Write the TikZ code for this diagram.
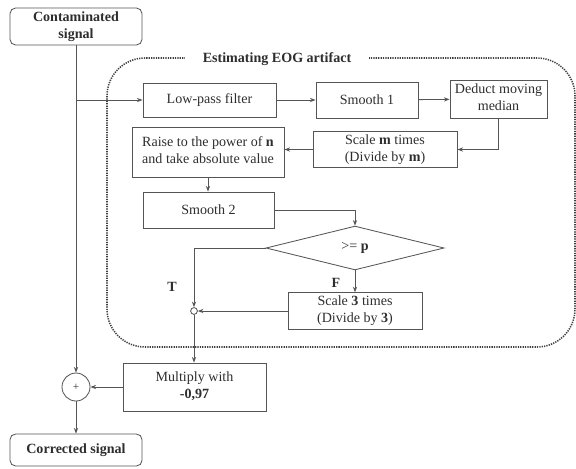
\documentclass[tikz,border=0pt]{standalone}
\usepackage{fontspec}
\setmainfont{Liberation Serif}
\usepackage{tikz}
\usetikzlibrary{
	arrows.meta,
	shapes.geometric
}
\definecolor{inkgray}{HTML}{555555}
\definecolor{textgray}{HTML}{2E2E2E}
\newcommand{\mlbox}[1]{%
	\begin{tabular}{@{}c@{}}%
		#1%
	\end{tabular}%
}
\tikzset{
	blockbox/.style={draw=inkgray,line width=0.6pt,inner sep=1pt,text=textgray},
	endbox/.style={blockbox,rounded corners=4pt,font=\bfseries,minimum width=3.3cm},
	decision/.style={diamond,draw=inkgray,line width=0.6pt,inner sep=1pt,text=textgray,
		minimum width=4.45cm,minimum height=1.05cm},
	sumnode/.style={circle,draw=inkgray,line width=0.6pt,minimum size=0.7cm,inner sep=0pt,
		font=\footnotesize,text=textgray},
	joint/.style={circle,draw=inkgray,line width=0.6pt,fill=white,minimum size=0.17cm,inner sep=0pt},
	flow/.style={draw=inkgray,line width=0.6pt,-{Stealth[length=4pt,width=3pt]}},
	frame/.style={draw=black!75,line width=1.1pt,dash pattern=on 0.9pt off 0.8pt,rounded corners=0.95cm}
}

\begin{document}
\begin{tikzpicture}[x=0.025cm,y=-0.025cm]
	\useasboundingbox (0,0) rectangle (576,468);

	% dotted frame round the estimation part
	\draw[frame] (107,58) rectangle (575,347);
	\node[fill=white,inner xsep=0.45cm,inner ysep=1pt,font=\bfseries,text=textgray] (title) at (277,59) {Estimating EOG artifact};

	\node[endbox,minimum height=0.925cm] (contam) at (76,26.5) {\mlbox{Contaminated \\ signal}};
	\node[endbox,minimum height=0.8cm] (corr) at (76,450) {Corrected signal};

	\node[blockbox,minimum width=3.325cm,minimum height=0.85cm] (lowpass) at (209.5,100) {Low-pass filter};
	\node[blockbox,minimum width=2.55cm,minimum height=0.9cm] (smooth1) at (367,100) {Smooth 1};
	\node[blockbox,minimum width=2.425cm,minimum height=0.95cm] (deduct) at (498.5,99) {\mlbox{Deduct moving \\ median}};
	\node[blockbox,minimum width=3.6cm,minimum height=0.775cm] (scalem) at (385,149.5) {\mlbox{Scale \textbf{m} times \\ (Divide by \textbf{m})}};
	\node[blockbox,minimum width=3.8cm,minimum height=1.25cm] (raise) at (208,152) {\mlbox{Raise to the power of \textbf{n} \\ and take absolute value}};
	\node[blockbox,minimum width=3.275cm,minimum height=0.9cm] (smooth2) at (208.5,210) {Smooth 2};
	\node[decision] (test) at (355,248) {{>}= \textbf{p}};
	\node[blockbox,minimum width=3.35cm,minimum height=0.9cm] (scale3) at (355,311) {\mlbox{Scale \textbf{3} times \\ (Divide by \textbf{3})}};
	\node[blockbox,minimum width=3.575cm,minimum height=1.2cm] (multiply) at (194.5,387) {\mlbox{Multiply with \\ \textbf{-0,97}}};
	\node[sumnode] (plus) at (76,387) {+};
	\node[joint] (join) at (194,311) {};

	\node[font=\bfseries,text=textgray] (tlabel) at (172,287) {T};
	\node[font=\bfseries,text=textgray] (flabel) at (336,283) {F};

	\coordinate (split) at (contam.south |- lowpass.west);

	\draw[flow] (contam) -- (plus);
	\draw[flow] (split) -- (lowpass);
	\draw[flow] (lowpass) -- (smooth1);
	\draw[flow] (smooth1) -- (deduct);
	\draw[flow] (deduct.south) |- (scalem.east);
	\draw[flow] (scalem.west) -- (scalem.west -| raise.east);
	\draw[flow] (raise.south) -- (raise.south |- smooth2.north);
	\draw[flow] (smooth2.east) -| (test.north);
	\draw[flow] (test.south) -- (scale3.north);
	\draw[flow] (test.west) -| (join.north);
	\draw[flow] (scale3.west) -- (join.east);
	\draw[flow] (join.south) -- (join.south |- multiply.north);
	\draw[flow] (multiply.west) -- (plus.east);
	\draw[flow] (plus) -- (corr);
\end{tikzpicture}
\end{document}
